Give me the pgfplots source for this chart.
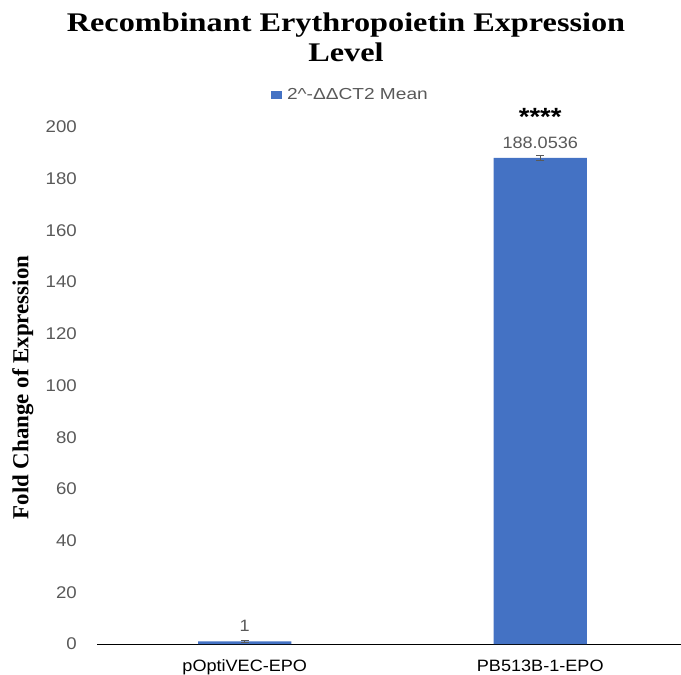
\documentclass[border=0pt]{standalone}
\usepackage{fontspec}
\setmainfont{Liberation Serif}
\newfontfamily\titlefont[FakeStretch=1.2]{Liberation Serif}
\newfontfamily\sansw[FakeStretch=1.1]{Liberation Sans}
\newfontfamily\sansl[FakeStretch=1.2]{Liberation Sans}
\usepackage{pgfplots}
\pgfplotsset{compat=1.18}
\definecolor{barblue}{HTML}{4472C4}
\definecolor{txtgray}{HTML}{595959}
\begin{document}
\begin{tikzpicture}
\useasboundingbox (0,0) rectangle (681bp,675bp);
\node[anchor=base, inner sep=0] at (346bp,643bp) {\titlefont\bfseries\fontsize{27}{30}\selectfont Recombinant Erythropoietin Expression};
\node[anchor=base, inner sep=0] at (346bp,613bp) {\titlefont\bfseries\fontsize{27}{30}\selectfont Level};
\begin{axis}[
  at={(97bp,31bp)}, anchor=south west,
  scale only axis,
  width=584bp, height=517bp,
  xmin=-0.5, xmax=1.4763,
  ymin=0, ymax=200,
  ytick={0,20,...,200},
  xtick=data,
  xticklabels={pOptiVEC-EPO,PB513B-1-EPO},
  axis x line*=bottom,
  axis y line*=left,
  y axis line style={draw=none},
  x axis line style={black, line width=0.8pt},
  major tick length=0pt,
  clip=false,
  /pgf/number format/assume math mode=true,
  yticklabel style={anchor=east, inner sep=0pt, xshift=-20bp, text=txtgray, font=\sansw\fontsize{17}{20}\selectfont},
  xticklabel style={anchor=base, inner sep=0pt, yshift=-27bp, text=black, font=\sansw\fontsize{16.5}{20}\selectfont},
  ylabel={\bfseries\fontsize{23}{26}\selectfont Fold Change of Expression},
  ylabel style={at={(axis description cs:-0.127,0.496)}, anchor=center, rotate=0, inner sep=0pt},
  legend style={at={(0.298,1.062)}, anchor=west, draw=none, fill=none, inner sep=0pt, outer sep=0pt,
    font=\sansl\fontsize{16}{18}\selectfont, text=txtgray,
    legend cell align=left, nodes={inner xsep=5bp}},
  legend image code/.code={\fill[barblue] (0bp,-4.5bp) rectangle (11bp,4bp);},
  nodes near coords,
  point meta=explicit symbolic,
  nodes near coords style={anchor=base, yshift=9.7bp, inner sep=0pt, text=txtgray, font=\sansw\fontsize{16.5}{20}\selectfont},
]
\addplot[ybar, bar width=93.4bp, fill=barblue, draw=none,
  error bars/.cd, y dir=both, y explicit,
  error bar style={txtgray, line width=1.1pt},
  error mark options={rotate=90, mark size=4bp, txtgray, line width=1.1pt}]
  coordinates {(0,1) +- (0,0.25) [1] (1,188.0536) +- (0,1.0) [188.0536]};
\addlegendentry{2\^{}-ΔΔCT2 Mean}
\node[anchor=base, inner sep=0pt, text=black] at (axis cs:1,200.5) {\sansw\bfseries\fontsize{25}{28}\selectfont ****};
\end{axis}
\end{tikzpicture}
\end{document}
